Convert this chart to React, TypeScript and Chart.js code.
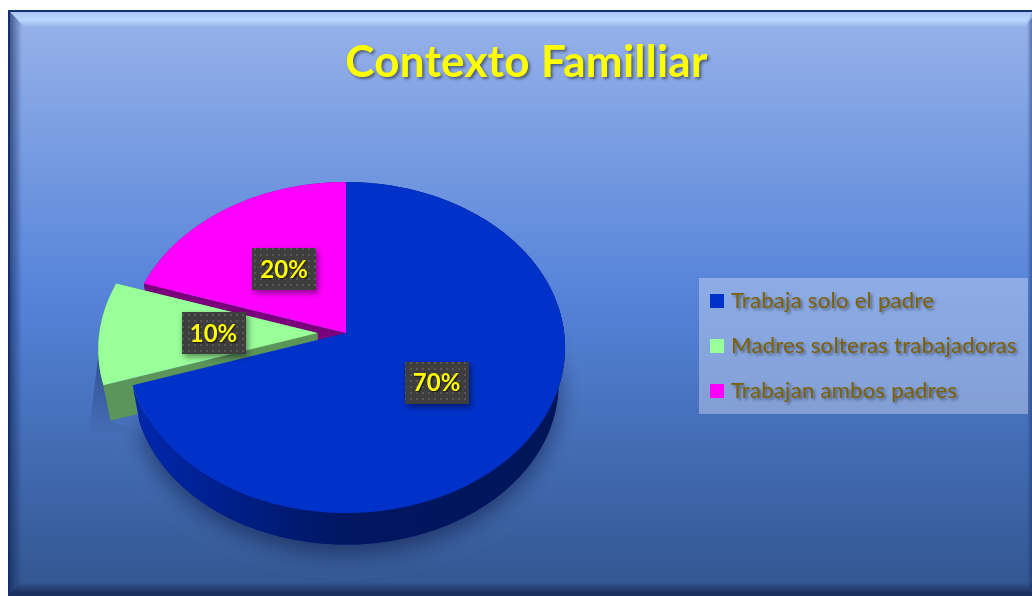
import React, { useEffect, useRef } from "react";
import { Chart, registerables } from "chart.js";

Chart.register(...registerables);

const chartTitle = "Contexto Familliar";
const categories = ["Trabaja solo el padre", "Madres solteras trabajadoras", "Trabajan ambos padres"];
const values = [70, 10, 20];
const sliceColors = ["#0031c9", "#99ff99", "#ff00ff"];
const wallColors = ["#001f80", "#5b955a", "#7b007b"];
const sliceOffsets = [0, 57, 0];
const paintOrder = [2, 1, 0];

const W = 1032, H = 596;
const CX = 346, CY = 333, RX = 218.2, RY = 164.2, PERSP = 0.0876;
const BOTTOM_SCALE = 0.97, DEPTH = 37;

function pt(U: number, V: number, bottom: boolean): [number, number] {
  const w = 1 + PERSP * V;
  const s = bottom ? BOTTOM_SCALE : 1;
  return [CX + (s * RX * U) / w, CY - (s * RY * V) / w + (bottom ? DEPTH : 0)];
}

function sliceGeom(arc: any) {
  const a0 = arc.startAngle, a1 = arc.endAngle;
  const mid = (a0 + a1) / 2;
  const e = (arc.options.offset || 0) / 2 / RX;
  const ou = e * Math.cos(mid), ov = -e * Math.sin(mid);
  const n = Math.max(4, Math.ceil((a1 - a0) / 0.02));
  const rim: [number, number][] = [];
  for (let i = 0; i <= n; i++) {
    const a = a0 + ((a1 - a0) * i) / n;
    rim.push([ou + Math.cos(a), ov - Math.sin(a)]);
  }
  return { rim, ou, ov, mid };
}

function poly(ctx: CanvasRenderingContext2D, pts: [number, number][]) {
  ctx.beginPath();
  pts.forEach((p, i) => (i ? ctx.lineTo(p[0], p[1]) : ctx.moveTo(p[0], p[1])));
  ctx.closePath();
}

function paintBackground(ctx: CanvasRenderingContext2D) {
  const L = 8, T = 10, R = W, B = 596;
  const g = ctx.createLinearGradient(0, T, 0, B);
  g.addColorStop(0, "#98b3ea");
  g.addColorStop(0.5, "#5482d8");
  g.addColorStop(1, "#32558f");
  ctx.fillStyle = g;
  ctx.fillRect(L, T, R - L, B - T);

  const top = ctx.createLinearGradient(0, 12, 0, 27);
  top.addColorStop(0, "rgba(190,215,255,0.55)");
  top.addColorStop(0.55, "rgba(190,220,255,0.9)");
  top.addColorStop(1, "rgba(190,220,255,0)");
  ctx.fillStyle = top;
  poly(ctx, [[10, 12], [R, 12], [R - 6, 27], [24, 27]]);
  ctx.fill();

  const left = ctx.createLinearGradient(10, 0, 22, 0);
  left.addColorStop(0, "rgba(20,40,90,0.65)");
  left.addColorStop(1, "rgba(20,40,90,0)");
  ctx.fillStyle = left;
  poly(ctx, [[10, 12], [22, 24], [22, 584], [10, 594]]);
  ctx.fill();

  const bot = ctx.createLinearGradient(0, 582, 0, 594);
  bot.addColorStop(0, "rgba(15,30,70,0)");
  bot.addColorStop(1, "rgba(15,30,70,0.7)");
  ctx.fillStyle = bot;
  poly(ctx, [[22, 582], [R, 582], [R, 594], [10, 594]]);
  ctx.fill();

  const right = ctx.createLinearGradient(1027, 0, 1032, 0);
  right.addColorStop(0, "rgba(20,40,90,0)");
  right.addColorStop(1, "rgba(20,40,90,0.45)");
  ctx.fillStyle = right;
  poly(ctx, [[1027, 24], [R, 18], [R, 590], [1027, 584]]);
  ctx.fill();

  ctx.strokeStyle = "#12306f";
  ctx.lineWidth = 2;
  ctx.beginPath();
  ctx.moveTo(9, H);
  ctx.lineTo(9, 11);
  ctx.lineTo(R, 11);
  ctx.stroke();
  ctx.fillStyle = "#1a2f66";
  ctx.fillRect(L, 594, R - L, 2);

  // legend panel
  ctx.fillStyle = "rgba(214,224,245,0.42)";
  ctx.fillRect(699, 278, 329, 136);
}

function wallFill(ctx: CanvasRenderingContext2D, i: number) {
  if (i !== 0) return wallColors[i];
  const g = ctx.createLinearGradient(135, 0, 565, 0);
  g.addColorStop(0, "#0027ac");
  g.addColorStop(0.12, "#00229a");
  g.addColorStop(0.3, "#001c7c");
  g.addColorStop(0.5, "#001660");
  g.addColorStop(1, "#001559");
  return g;
}

const pie3d = {
  id: "pie3d",
  beforeDraw(chart: any) {
    const ctx = chart.ctx;
    paintBackground(ctx);
    // shadow on the title and legend text only, not on the legend markers
    const nativeFillText = ctx.fillText;
    ctx.fillText = function (...args: any[]) {
      ctx.shadowColor = "rgba(0,0,0,0.45)";
      ctx.shadowBlur = 3;
      ctx.shadowOffsetX = 2;
      ctx.shadowOffsetY = 2;
      nativeFillText.apply(ctx, args);
      ctx.shadowColor = "transparent";
      ctx.shadowBlur = 0;
      ctx.shadowOffsetX = 0;
      ctx.shadowOffsetY = 0;
    };
    ctx.letterSpacing = "0.3px";
  },
  beforeDatasetsDraw(chart: any) {
    const ctx = chart.ctx;
    delete ctx.fillText;
    ctx.letterSpacing = "0px";
    const arcs = chart.getDatasetMeta(0).data;
    ctx.save();

    // soft cast shadow left of the detached slice
    const g1 = sliceGeom(arcs[1]);
    const c0 = pt(g1.rim[0][0], g1.rim[0][1], false);
    const c1 = pt(g1.rim[0][0], g1.rim[0][1], true);
    const sh = ctx.createLinearGradient(c0[0], c0[1] - 30, c0[0] - 6, c1[1] + 16);
    sh.addColorStop(0, "rgba(30,50,100,0.6)");
    sh.addColorStop(1, "rgba(30,50,100,0)");
    ctx.fillStyle = sh;
    poly(ctx, [[c0[0] - 5, c0[1] - 30], c0, c1, [c1[0] + 20, c1[1] + 10], [c0[0] - 15, c1[1] + 16]]);
    ctx.fill();

    // soft shadow under the large slice, painted before every slice
    const big = sliceGeom(arcs[0]);
    ctx.shadowColor = "rgba(10,20,60,0.55)";
    ctx.shadowBlur = 22;
    ctx.shadowOffsetY = 8;
    ctx.fillStyle = wallColors[0];
    poly(ctx, [pt(big.ou, big.ov, true), ...big.rim.map((q) => pt(q[0], q[1], true))]);
    ctx.fill();
    ctx.shadowColor = "transparent";
    ctx.shadowBlur = 0;
    ctx.shadowOffsetY = 0;
    // background is repainted over the top half where the shadow must not show
    for (const i of paintOrder) {
      const { rim, ou, ov } = sliceGeom(arcs[i]);
      const topRim = rim.map((q) => pt(q[0], q[1], false));
      const botRim = rim.map((q) => pt(q[0], q[1], true));
      const apexT = pt(ou, ov, false);
      const apexB = pt(ou, ov, true);
      ctx.fillStyle = wallFill(ctx, i);
      if (i !== 0) {
        poly(ctx, [apexT, topRim[0], botRim[0], apexB]);
        ctx.fill();
        poly(ctx, [apexT, topRim[topRim.length - 1], botRim[botRim.length - 1], apexB]);
        ctx.fill();
      }
      poly(ctx, [...topRim, ...botRim.slice().reverse()]);
      ctx.fill();
      ctx.fillStyle = sliceColors[i];
      poly(ctx, [apexT, ...topRim]);
      ctx.fill();
    }
    ctx.restore();

    // data labels
    const pc = document.createElement("canvas");
    pc.width = 6;
    pc.height = 6;
    const p = pc.getContext("2d")!;
    p.fillStyle = "#3e3e3e";
    p.fillRect(0, 0, 6, 6);
    p.fillStyle = "#585858";
    p.fillRect(2, 2, 2, 2);
    const pattern = ctx.createPattern(pc, "repeat")!;
    const sum = values.reduce((a, b) => a + b, 0);
    arcs.forEach((arc: any, i: number) => {
      const { ou, ov, mid } = sliceGeom(arc);
      const [x, y] = pt(0.5 * Math.cos(mid) + 0.82 * ou, -0.5 * Math.sin(mid) + 0.82 * ov, false);
      const bw = 64, bh = 42;
      ctx.save();
      ctx.shadowColor = "rgba(0,0,0,0.45)";
      ctx.shadowBlur = 6;
      ctx.shadowOffsetX = 2;
      ctx.shadowOffsetY = 3;
      ctx.fillStyle = pattern;
      ctx.fillRect(Math.round(x - bw / 2), Math.round(y - bh / 2), bw, bh);
      ctx.shadowColor = "rgba(0,0,0,0.7)";
      ctx.shadowBlur = 2;
      ctx.shadowOffsetX = 1;
      ctx.shadowOffsetY = 1;
      ctx.fillStyle = "#ffff00";
      ctx.font = "bold 24px Lato";
      ctx.textAlign = "center";
      ctx.textBaseline = "middle";
      ctx.fillText(Math.round((values[i] / sum) * 100) + "%", x, y + 1);
      ctx.restore();
    });
    return false;
  },
  afterLayout(chart: any) {
    const lg = chart.legend;
    lg.left = 691;
    lg.right = 1028;
    lg.top = 267;
    lg.bottom = 430;
  },
};

export default function App() {
  const ref = useRef<HTMLCanvasElement>(null);
  useEffect(() => {
    const chart = new Chart(ref.current!, {
      type: "pie",
      data: {
        labels: categories,
        datasets: [{ data: values, backgroundColor: sliceColors, offset: sliceOffsets, borderWidth: 0 }],
      },
      options: {
        responsive: false,
        animation: false,
        layout: { padding: { left: 21, top: 36 } },
        plugins: {
          tooltip: { enabled: false },
          title: {
            display: true,
            text: chartTitle,
            color: "#ffff00",
            font: { family: "Lato", size: 44, weight: "bold" },
            padding: { top: 0, bottom: 10 },
          },
          legend: {
            position: "right",
            align: "start",
            labels: {
              usePointStyle: true,
              pointStyle: "rect",
              boxWidth: 6,
              boxHeight: 14,
              padding: 23,
              color: "#7f6000",
              font: { family: "Lato", size: 22 },
            },
          },
        },
      },
      plugins: [pie3d],
    } as any);
    return () => chart.destroy();
  }, []);
  return (
    <div style={{ position: "absolute", left: 0, top: 0, width: W, height: H, overflow: "hidden", background: "#fff" }}>
      <canvas ref={ref} width={W} height={H} style={{ display: "block" }} />
    </div>
  );
}
